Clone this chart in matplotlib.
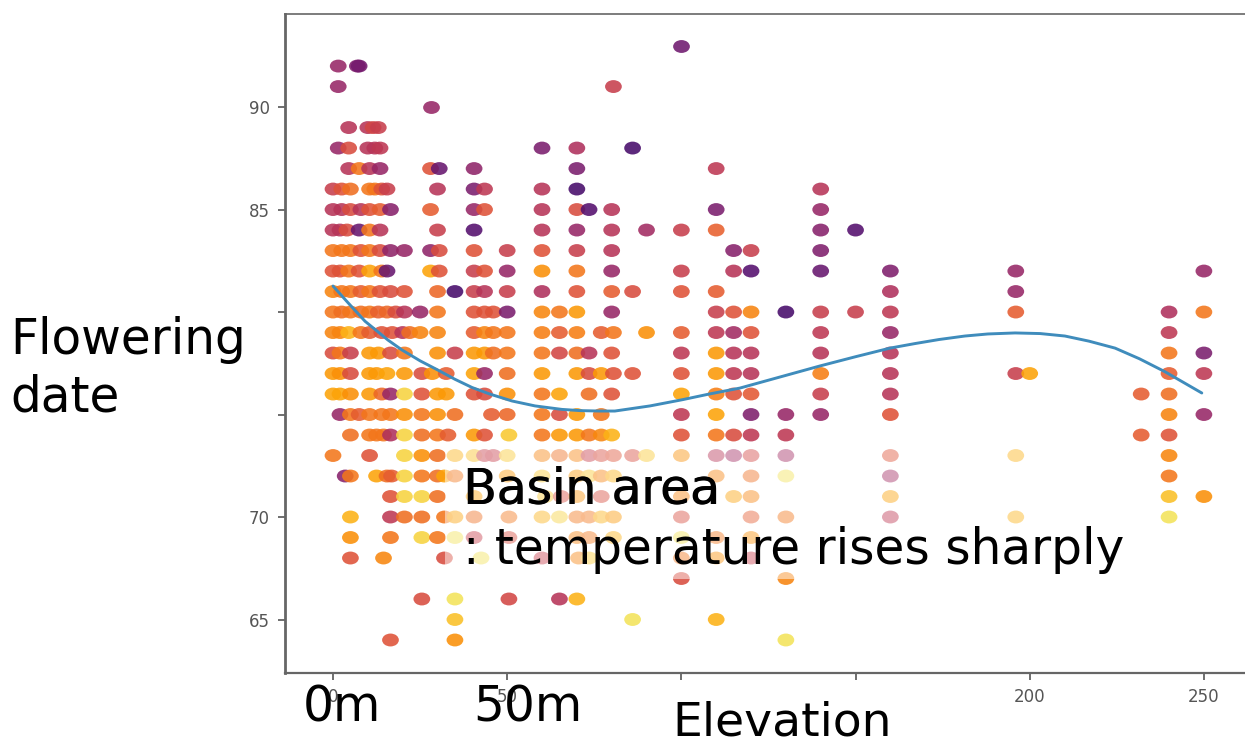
import matplotlib
matplotlib.use("Agg")
import matplotlib.pyplot as plt
from matplotlib.markers import MarkerStyle
from matplotlib.patches import Rectangle
from matplotlib.transforms import Affine2D

# ----------  Data: x = elevation, c = colour value  ----------

x_93 = [100]
c_93 = [.32]
x_92 = [1.5, 7, 7.5]
c_92 = [.42, .36, .33]
x_91 = [1.5, 80.5]
c_91 = [.42, .55]
x_90 = [28]
c_90 = [.42]
x_89 = [4.5, 10, 11.5, 13]
c_89 = [.5, .5, .58, .55]
x_88 = [1.5, 4.5, 10, 12, 13.5, 60, 70, 86]
c_88 = [.42, .6, .5, .5, .52, .35, .48, .22]
x_87 = [4.5, 7.5, 10.5, 13.5, 28, 30.5, 40.5, 70, 110]
c_87 = [.5, .72, .5, .42, .62, .3, .4, .35, .52]
x_86 = [0, 2.5, 5, 10.5, 12, 14, 15.5, 30, 40.5, 43.5, 60, 70, 140]
c_86 = [.55, .62, .7, .72, .72, .62, .55, .5, .35, .52, .5, .22, .5]
x_85 = [0, 2.5, 5, 8, 10.5, 13.5, 16.5, 28, 40.5, 43.5, 60, 70, 73.5, 80, 110, 140]
c_85 = [.5, .5, .6, .5, .62, .65, .38, .65, .42, .62, .5, .6, .25, .5, .35, .42]
x_84 = [0, 2, 4, 7.5, 10.5, 13.5, 30, 40.5, 60, 70, 80, 90, 100, 110, 140, 150]
c_84 = [.5, .5, .6, .3, .72, .5, .55, .25, .5, .42, .5, .45, .55, .66, .38, .25]
x_83 = [0, 2.5, 5, 8, 10.5, 13.5, 16.5, 20.5, 28, 30.5, 40.5, 50, 60, 70, 80, 115, 120, 140]
c_83 = [.72, .72, .72, .62, .72, .6, .4, .42, .4, .6, .62, .55, .62, .55, .5, .38, .55, .36]
x_82 = [0, 2, 4.5, 7.5, 10.5, 14, 15.5, 28, 30.5, 40.5, 43.5, 50, 60, 70, 80, 100, 115, 120,
        140, 160, 196, 250]
c_82 = [.62, .62, .72, .62, .82, .72, .3, .82, .62, .55, .62, .42, .78, .72, .42, .55, .5, .25,
        .3, .36, .42, .42]
x_81 = [0, 2.5, 5, 8, 10.5, 13.5, 16.5, 20.5, 30, 35, 40.5, 43.5, 50, 60, 70, 80, 86, 100,
        110, 160, 196]
c_81 = [.75, .72, .72, .65, .72, .62, .6, .62, .68, .22, .55, .5, .55, .48, .62, .65, .6, .62,
        .65, .48, .42]
x_80 = [0, 2.5, 5, 8, 10.5, 13, 15.5, 18, 20.5, 25, 30, 40.5, 43.5, 46, 50, 60, 65, 70, 80,
        110, 115, 120, 130, 140, 150, 160, 196, 240, 250]
c_80 = [.72, .7, .72, .7, .72, .66, .68, .6, .5, .42, .72, .62, .62, .62, .35, .76, .72, .8, .42,
        .55, .62, .75, .22, .55, .55, .52, .65, .48, .72]
x_79 = [0, 2, 4.5, 8, 10.5, 14, 17, 20, 22, 25, 30, 40.5, 43.5, 46, 50, 60, 65, 70, 77, 80.5,
        90, 100, 110, 115, 120, 140, 160, 240]
c_79 = [.75, .75, .85, .72, .65, .62, .62, .5, .7, .75, .75, .65, .75, .72, .72, .74, .65, .74,
        .65, .72, .78, .65, .52, .45, .62, .52, .42, .52]
x_78 = [0, 2, 5, 10.5, 13, 16.5, 20.5, 30, 35, 40.5, 43.5, 46, 50, 60, 65, 70, 73.5, 80,
        100, 110, 115, 120, 140, 160, 240, 250]
c_78 = [.6, .72, .55, .8, .8, .6, .72, .78, .55, .8, .8, .7, .72, .72, .58, .7, .5, .62,
        .52, .8, .5, .5, .5, .5, .72, .35]
x_77 = [0, 2, 5, 10.5, 12.5, 15.5, 20.5, 25.5, 28.5, 32.5, 40.5, 43.5, 50, 60, 70, 73.5, 77,
        80.5, 86, 100, 110, 115, 120, 140, 160, 196, 200, 240, 250]
c_77 = [.8, .78, .6, .8, .8, .82, .8, .6, .78, .65, .82, .42, .7, .8, .8, .6, .8, .62, .62, .62,
        .8, .52, .5, .74, .5, .55, .82, .65, .52]
x_76 = [0, 2, 5, 10.5, 14, 16.5, 20.5, 25.5, 30, 32.5, 40.5, 43.5, 50, 60, 65, 73.5, 80,
        100, 110, 115, 120, 140, 160, 232, 240]
c_76 = [.82, .82, .78, .8, .68, .42, .92, .62, .8, .8, .62, .6, .78, .72, .82, .7, .62, .82, .74,
        .62, .64, .55, .5, .65, .7]
x_75 = [2, 5, 7.5, 10.5, 14, 16.5, 20.5, 25.5, 30, 35, 45.5, 50, 60, 65, 70, 77, 100, 110,
        120, 130, 140, 160, 240, 250]
c_75 = [.42, .72, .65, .72, .72, .72, .78, .72, .78, .7, .65, .68, .72, .6, .8, .72, .52, .82,
        .36, .42, .42, .62, .75, .42]
x_74 = [5, 10.5, 12.5, 14.5, 16.5, 20.5, 25.5, 30, 33, 40.5, 43.5, 50.5, 60, 65, 70, 73.5, 77,
        80, 100, 110, 115, 120, 130, 232, 240]
c_74 = [.7, .72, .72, .72, .48, .92, .7, .72, .65, .8, .62, .9, .72, .8, .8, .72, .76, .85, .62,
        .72, .6, .52, .52, .65, .62]
x_73 = [0, 10.5, 20.5, 25.5, 30, 35, 40.5, 43.5, 46, 50, 60, 65, 70, 73.5, 77, 80.5, 86,
        90, 100, 110, 115, 120, 130, 160, 196, 240]
c_73 = [.72, .62, .92, .78, .7, .85, .88, .55, .55, .9, .75, .7, .75, .55, .6, .62, .6, .9,
        .78, .5, .45, .58, .45, .62, .85, .76]
x_72 = [3.5, 5, 12.5, 15.5, 16.8, 20.5, 25.5, 30, 32, 35, 50, 60, 70, 73.5, 77, 80.5, 110,
        120, 130, 160, 240]
c_72 = [.38, .72, .82, .7, .65, .92, .72, .7, .82, .72, .8, .9, .8, .9, .75, .85, .75, .7,
        .95, .45, .72]
x_71 = [16.5, 20.5, 25.5, 30, 40.5, 61, 65.5, 70, 77, 100, 115, 120, 160, 240, 250]
c_71 = [.62, .92, .92, .7, .82, .9, .6, .78, .6, .75, .82, .75, .82, .88, .78]
x_70 = [5, 16.5, 20.5, 25.5, 32, 35, 40.5, 50.5, 60, 65, 70, 73.5, 77, 80.5, 100, 120, 130,
        160, 196, 240]
c_70 = [.85, .52, .7, .7, .72, .82, .7, .72, .85, .92, .72, .72, .85, .8, .6, .65, .72, .52,
        .85, .95]
x_69 = [5, 16.5, 25.5, 30, 35, 40.5, 50.5, 70, 73.5, 80.5, 100, 110, 120]
c_69 = [.78, .72, .92, .72, .95, .55, .6, .75, .72, .85, .95, .72, .78]
x_68 = [5, 14.5, 32, 42.5, 60, 70.5, 73.5, 100, 110, 120]
c_68 = [.62, .76, .6, .95, .55, .75, .9, .72, .78, .55]
x_67 = [100, 130]
c_67 = [.6, .75]
x_66 = [25.5, 35, 50.5, 65, 70]
c_66 = [.6, .95, .58, .5, .85]
x_65 = [35, 86, 110]
c_65 = [.88, .95, .85]
x_64 = [16.5, 35, 130]
c_64 = [.62, .78, .95]

rows = [(93, x_93, c_93), (92, x_92, c_92), (91, x_91, c_91), (90, x_90, c_90),
        (89, x_89, c_89), (88, x_88, c_88), (87, x_87, c_87), (86, x_86, c_86),
        (85, x_85, c_85), (84, x_84, c_84), (83, x_83, c_83), (82, x_82, c_82),
        (81, x_81, c_81), (80, x_80, c_80), (79, x_79, c_79), (78, x_78, c_78),
        (77, x_77, c_77), (76, x_76, c_76), (75, x_75, c_75), (74, x_74, c_74),
        (73, x_73, c_73), (72, x_72, c_72), (71, x_71, c_71), (70, x_70, c_70),
        (69, x_69, c_69), (68, x_68, c_68), (67, x_67, c_67), (66, x_66, c_66),
        (65, x_65, c_65), (64, x_64, c_64)]

curve_x = [0, 4.6, 9.2, 15.8, 19.8, 25, 30.1, 35, 39.9, 45, 51.4, 58, 65.7, 71, 76.6, 80.9, 91,
           100.2, 108, 116.8, 128.3, 139.8, 150, 159.9, 167, 174, 181.4, 188, 195.8, 203, 210.1,
           217, 224.5, 231.5, 238.8, 249.4]
curve_y = [81.27, 80.4, 79.55, 78.63, 78.15, 77.62, 77.17, 76.72, 76.32, 76.0, 75.66, 75.42, 75.25,
           75.19, 75.17, 75.17, 75.42, 75.72, 76.0, 76.29, 76.83, 77.37, 77.82, 78.24, 78.46, 78.66,
           78.83, 78.93, 78.98, 78.95, 78.83, 78.58, 78.24, 77.72, 77.09, 76.05]

x_ticks = [0, 50, 100, 150, 200, 250]
x_tick_labels = ['0', '50', '', '', '200', '250']
y_ticks = [65, 70, 75, 80, 85, 90]
y_tick_labels = ['65', '70', '', '', '85', '90']

# ----------  Plotting  ----------

W, H = 1245, 740
fig = plt.figure(figsize=(W / 100, H / 100), dpi=100)
ax = fig.add_axes([285 / W, 1 - 673 / H, (W - 285) / W, (673 - 14) / H])
ax.set_xlim(-13.78, 261.8)
ax.set_ylim(62.39, 94.54)

dot = MarkerStyle('o', transform=Affine2D().scale(1.3, 1))
for value, xs, cs in rows:
    ax.scatter(xs, [value] * len(xs), c=cs, cmap='inferno', vmin=0, vmax=1.03,
               s=86, marker=dot, alpha=0.88, linewidths=0, zorder=2)

ax.plot(curve_x, curve_y, color='#3f8cbc', linewidth=2.1, zorder=3, solid_capstyle='round')

# white box of the annotation, it fades the dots behind it
fig.add_artist(Rectangle((445 / W, 1 - 579 / H), 645 / W, 132 / H, transform=fig.transFigure,
                         facecolor='white', alpha=0.5, edgecolor='none', zorder=4))

ax.set_xticks(x_ticks, x_tick_labels)
ax.set_yticks(y_ticks, y_tick_labels)
ax.tick_params(length=5, width=1.2, color='#555555', labelcolor='#555555', labelsize=12, pad=6)
ax.spines['left'].set_linewidth(2)
ax.spines['bottom'].set_linewidth(1.6)
ax.spines['top'].set_linewidth(1.2)
for side in ['left', 'bottom', 'top']:
    ax.spines[side].set_color('#666666')
ax.spines['right'].set_visible(False)


def label(px, py, text, size=35):
    fig.text(px / W, 1 - py / H, text, fontsize=size, color='black', family='DejaVu Sans',
             va='baseline', zorder=6)


label(10, 354, 'Flowering')
label(10, 411, 'date')
label(463, 503, 'Basin area')
label(463.6, 503, 'Basin area')
label(463, 564, ': temperature rises sharply')
label(303, 722, '0m')
label(473, 722, '50m')
label(672, 736, 'Elevation', size=34)

fig.savefig('out.png', dpi=100)
